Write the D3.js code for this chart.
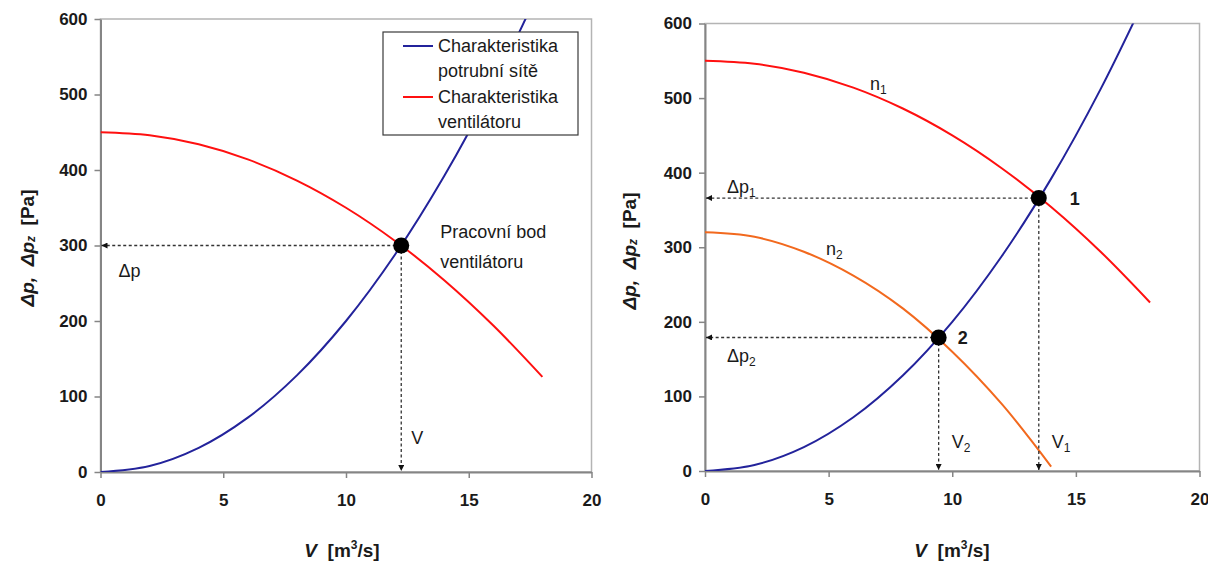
<!DOCTYPE html>
<html><head><meta charset="utf-8">
<script src="https://cdn.jsdelivr.net/npm/d3@7"></script>
<style>
body{margin:0;background:#fff;}
text{font-family:"Liberation Sans",Arial,sans-serif;fill:#1a1a1a;white-space:pre;}
</style>
</head><body>
<svg id="c" width="1208" height="566"></svg>
<script>
// ---- data ----
const flowV      = [0, 2, 4, 6, 8, 10, 12, 14, 16, 18];           // m3/s
const systemP    = [0, 8, 32, 72, 128, 200, 288, 392, 512, 648];  // pipe network characteristic
const fanLeftP   = [450, 446, 434, 414, 386, 350, 306, 254, 194, 126];
const fanN1P     = [550, 546, 534, 514, 486, 450, 406, 354, 294, 226];
const flowN2     = [0, 2, 4, 6, 8, 10, 12, 14];
const fanN2P     = [320, 314, 294, 262, 218, 160, 90, 6];
const opLeft     = [12.25, 300];
const op1        = [13.5, 366];
const op2        = [9.45, 179];
const xTicks     = [0, 5, 10, 15, 20];
const yTicks     = [0, 100, 200, 300, 400, 500, 600];
const legendLabels = [["Charakteristika", "potrubní sítě"], ["Charakteristika", "ventilátoru"]];

const C_BLUE = "#23239b", C_RED = "#ff1010", C_ORANGE = "#f2691e";
const FS = 18;

const svg = d3.select("#c");
const defs = svg.append("defs");
defs.append("marker").attr("id", "arr").attr("viewBox", "0 0 10 10")
  .attr("refX", 10).attr("refY", 5).attr("markerWidth", 9).attr("markerHeight", 6)
  .attr("markerUnits", "userSpaceOnUse").attr("orient", "auto")
  .append("path").attr("d", "M0,0L10,5L0,10Z").attr("fill", "#111");

function series(xs, ys) { return xs.map((v, i) => [v, ys[i]]); }

function panel(id, xr, yr) {
  const x = d3.scaleLinear().domain([0, 20]).range(xr);
  const y = d3.scaleLinear().domain([0, 600]).range(yr);
  const g = svg.append("g");
  defs.append("clipPath").attr("id", "clip" + id).append("rect")
    .attr("x", xr[0]).attr("y", yr[1]).attr("width", xr[1] - xr[0]).attr("height", yr[0] - yr[1]);
  g.append("rect").attr("x", xr[0]).attr("y", yr[1]).attr("width", xr[1] - xr[0]).attr("height", yr[0] - yr[1])
    .attr("fill", "#fff").attr("stroke", "#b4b4b4").attr("stroke-width", 1.5);
  const ya = g.append("g").attr("transform", `translate(${xr[0]},0)`)
    .call(d3.axisLeft(y).tickValues(yTicks).tickSize(6).tickSizeOuter(0).tickPadding(7));
  const xa = g.append("g").attr("transform", `translate(0,${yr[0]})`)
    .call(d3.axisBottom(x).tickValues(xTicks).tickSize(6).tickSizeOuter(0).tickPadding(16));
  [ya, xa].forEach(a => {
    a.select(".domain").attr("stroke", "#858585").attr("stroke-width", 2);
    a.selectAll(".tick line").attr("stroke", "#858585").attr("stroke-width", 1.5);
    a.selectAll(".tick text").attr("font-size", 17).attr("font-weight", "bold")
      .attr("font-family", "'Liberation Sans',Arial,sans-serif").attr("fill", "#222");
  });
  const curves = g.append("g").attr("clip-path", `url(#clip${id})`);
  const line = d3.line().x(d => x(d[0])).y(d => y(d[1])).curve(d3.curveCatmullRom.alpha(0.5));
  return { x, y, g, curves, line };
}

function drawCurve(P, data, color) {
  P.curves.append("path").datum(data).attr("d", P.line)
    .attr("fill", "none").attr("stroke", color).attr("stroke-width", 2);
}

function guides(P, pt) {
  const { x, y, g } = P;
  g.append("line").attr("x1", x(pt[0])).attr("y1", y(pt[1])).attr("x2", x(0) + 1).attr("y2", y(pt[1]))
    .attr("stroke", "#333").attr("stroke-width", 1.3).attr("stroke-dasharray", "3,2.5").attr("marker-end", "url(#arr)");
  g.append("line").attr("x1", x(pt[0])).attr("y1", y(pt[1])).attr("x2", x(pt[0])).attr("y2", y(0) - 1)
    .attr("stroke", "#333").attr("stroke-width", 1.3).attr("stroke-dasharray", "3,2.5").attr("marker-end", "url(#arr)");
}
function dot(P, pt) {
  P.g.append("circle").attr("cx", P.x(pt[0])).attr("cy", P.y(pt[1])).attr("r", 8).attr("fill", "#000");
}
function label(g, px, py, main, sub, opts = {}) {
  const t = g.append("text").attr("x", px).attr("y", py)
    .attr("font-size", opts.size || FS).attr("font-weight", opts.bold ? "bold" : "normal");
  t.append("tspan").text(main);
  if (sub) t.append("tspan").attr("dy", 4).attr("font-size", 12).text(sub);
  return t;
}
function axisLabels(P, ylx, yly, xlx, xly) {
  const yl = P.g.append("text").attr("transform", `translate(${ylx},${yly}) rotate(-90)`)
    .attr("text-anchor", "middle").attr("dominant-baseline", "central")
    .attr("font-size", 19).attr("font-weight", "bold");
  yl.append("tspan").attr("font-style", "italic").text("Δp,  Δp");
  yl.append("tspan").attr("font-style", "italic").attr("font-size", 12).attr("dy", 4).text("z");
  yl.append("tspan").attr("dy", -4).text("  [Pa]");
  const xl = P.g.append("text").attr("x", xlx).attr("y", xly).attr("text-anchor", "middle")
    .attr("font-size", 19).attr("font-weight", "bold");
  xl.append("tspan").attr("font-style", "italic").text("V");
  xl.append("tspan").text("  [m");
  xl.append("tspan").attr("font-size", 12).attr("dy", -8).text("3");
  xl.append("tspan").attr("dy", 8).text("/s]");
}

// ---------- left panel ----------
const L = panel("L", [100.5, 591.5], [472, 19]);
drawCurve(L, series(flowV, systemP), C_BLUE);
drawCurve(L, series(flowV, fanLeftP), C_RED);
guides(L, opLeft);
dot(L, opLeft);
label(L.g, L.x(0) + 18, L.y(opLeft[1]) + 31, "Δp");
label(L.g, L.x(opLeft[0]) + 10, L.y(0) - 28, "V");
label(L.g, L.x(opLeft[0]) + 39, L.y(opLeft[1]) - 8, "Pracovní bod");
label(L.g, L.x(opLeft[0]) + 39, L.y(opLeft[1]) + 22, "ventilátoru");
axisLabels(L, 27, 248, 342, 557);
// legend
const lg = L.g.append("g");
lg.append("rect").attr("x", 383).attr("y", 32).attr("width", 195).attr("height", 103)
  .attr("fill", "#fff").attr("stroke", "#3a3a3a").attr("stroke-width", 1.2);
[C_BLUE, C_RED].forEach((c, i) => {
  const cy = 46 + i * 51;
  lg.append("line").attr("x1", 403).attr("x2", 433).attr("y1", cy).attr("y2", cy)
    .attr("stroke", c).attr("stroke-width", 2);
  legendLabels[i].forEach((s, j) => {
    lg.append("text").attr("x", 438).attr("y", cy + 6 + j * 25).attr("font-size", FS).text(s);
  });
});

// ---------- right panel ----------
const R = panel("R", [705, 1199.5], [471, 23.5]);
drawCurve(R, series(flowV, systemP), C_BLUE);
drawCurve(R, series(flowV, fanN1P), C_RED);
drawCurve(R, series(flowN2, fanN2P), C_ORANGE);
guides(R, op1);
guides(R, op2);
dot(R, op1);
dot(R, op2);
label(R.g, R.x(0) + 22, R.y(op1[1]) - 5, "Δp", "1");
label(R.g, R.x(0) + 22, R.y(op2[1]) + 25, "Δp", "2");
label(R.g, 870, 90, "n", "1");
label(R.g, 826, 255, "n", "2");
label(R.g, R.x(op2[0]) + 13, 448, "V", "2");
label(R.g, R.x(op1[0]) + 13, 448, "V", "1");
label(R.g, R.x(op1[0]) + 31, R.y(op1[1]) + 7, "1", null, { bold: true, size: 18 });
label(R.g, R.x(op2[0]) + 19, R.y(op2[1]) + 7, "2", null, { bold: true, size: 18 });
axisLabels(R, 629, 251, 952, 557);
</script>
</body></html>
